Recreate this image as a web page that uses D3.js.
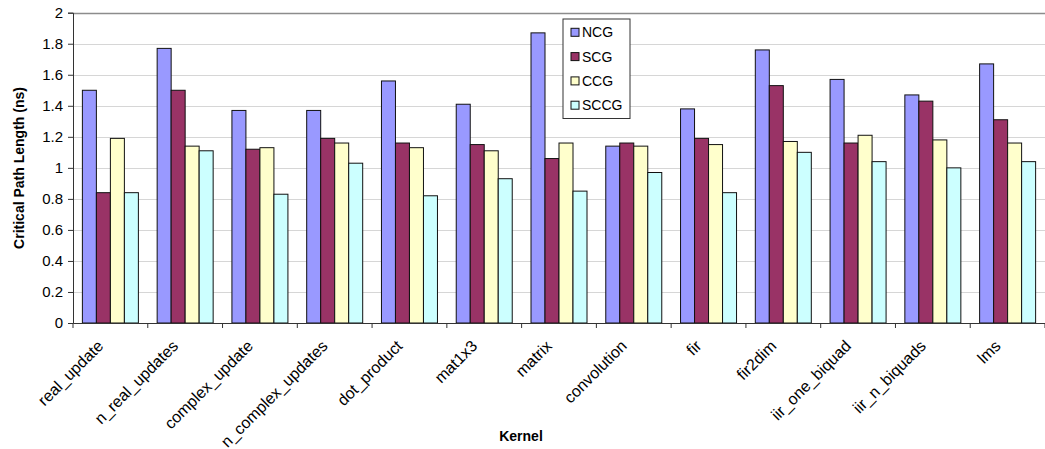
<!DOCTYPE html>
<html><head><meta charset="utf-8">
<script src="https://cdn.jsdelivr.net/npm/d3@7"></script>
<style>body{margin:0;background:#fff}svg{display:block}text{font-family:"Liberation Sans",Arial,sans-serif}</style>
</head><body><svg id="c" width="1045" height="449"></svg>
<script>
const categories = ["real_update","n_real_updates","complex_update","n_complex_updates","dot_product","mat1x3","matrix","convolution","fir","fir2dim","iir_one_biquad","iir_n_biquads","lms"];
const seriesNames = ["NCG","SCG","CCG","SCCG"];
const NCG  = [1.50,1.77,1.37,1.37,1.56,1.41,1.87,1.14,1.38,1.76,1.57,1.47,1.67];
const SCG  = [0.84,1.50,1.12,1.19,1.16,1.15,1.06,1.16,1.19,1.53,1.16,1.43,1.31];
const CCG  = [1.19,1.14,1.13,1.16,1.13,1.11,1.16,1.14,1.15,1.17,1.21,1.18,1.16];
const SCCG = [0.84,1.11,0.83,1.03,0.82,0.93,0.85,0.97,0.84,1.10,1.04,1.00,1.04];
const yTicks = [0,0.2,0.4,0.6,0.8,1,1.2,1.4,1.6,1.8,2];
const colors = ["#9999ff","#993366","#ffffcc","#ccffff"];
const seriesVals = [NCG,SCG,CCG,SCCG];

const svg = d3.select("#c");
const L=73, R=1045, T=12.7, B=323;
const x = d3.scaleBand().domain(categories).range([L,R]).paddingInner(0).paddingOuter(0);
const y = d3.scaleLinear().domain([0,2]).range([B,T]);
const bw = 14;
const xs = d3.scaleBand().domain(seriesNames).range([0,4*bw]);
const off = (x.bandwidth()-4*bw)/2;

// gridlines
svg.append("g").selectAll("line").data(yTicks.filter(d=>d>0)).join("line")
  .attr("x1",L).attr("x2",R).attr("y1",d=>Math.round(y(d))+0.5).attr("y2",d=>Math.round(y(d))+0.5)
  .attr("stroke",d=>d===2?"#8c8c8c":"#d6d6d6").attr("stroke-width",d=>d===2?1.3:1);

// bars
seriesVals.forEach((vals,si)=>{
  svg.append("g").selectAll("rect").data(categories).join("rect")
    .attr("x",c=>x(c)+off+xs(seriesNames[si]))
    .attr("y",(c,i)=>y(vals[i]))
    .attr("width",xs.bandwidth())
    .attr("height",(c,i)=>B-y(vals[i]))
    .attr("fill",colors[si]).attr("stroke","#111").attr("stroke-width",1);
});

// y axis
const ya = svg.append("g").attr("transform",`translate(${L},0)`)
  .call(d3.axisLeft(y).tickValues(yTicks).tickSize(5).tickPadding(5).tickFormat(d3.format("~g")));
ya.select(".domain").attr("stroke","#333");
ya.selectAll(".tick line").attr("stroke","#333");
ya.selectAll("text").attr("font-size",15).attr("fill","#000").attr("font-family","Liberation Sans, Arial, sans-serif");

// x axis
const xa = svg.append("g").attr("transform",`translate(0,${B})`)
  .call(d3.axisBottom(x).tickSize(0).tickFormat(""));
xa.select(".domain").attr("stroke","#333");
svg.append("g").selectAll("line").data(d3.range(categories.length+1)).join("line")
  .attr("x1",i=>L+i*x.step()).attr("x2",i=>L+i*x.step()).attr("y1",B).attr("y2",B+5).attr("stroke","#333");
svg.append("g").selectAll("text").data(categories).join("text")
  .attr("transform",c=>`translate(${x(c)+x.bandwidth()/2-6},${B+24}) rotate(-45)`)
  .attr("text-anchor","end").attr("font-size",16).text(c=>c);

// axis titles
svg.append("text").attr("transform","translate(24,168) rotate(-90)").attr("text-anchor","middle")
  .attr("font-size",14).attr("font-weight","bold").text("Critical Path Length (ns)");
svg.append("text").attr("x",521).attr("y",441).attr("text-anchor","middle")
  .attr("font-size",14).attr("font-weight","bold").text("Kernel");

// legend
const lg = svg.append("g");
lg.append("rect").attr("x",563).attr("y",19).attr("width",67).attr("height",99.5).attr("fill","#fff").attr("stroke","#333");
seriesNames.forEach((n,i)=>{
  const cy = 32.3 + i*24.3;
  lg.append("rect").attr("x",571).attr("y",cy-4).attr("width",8).attr("height",8).attr("fill",colors[i]).attr("stroke","#111");
  lg.append("text").attr("x",582).attr("y",cy).attr("dy","0.36em").attr("font-size",14).text(n);
});
</script></body></html>
